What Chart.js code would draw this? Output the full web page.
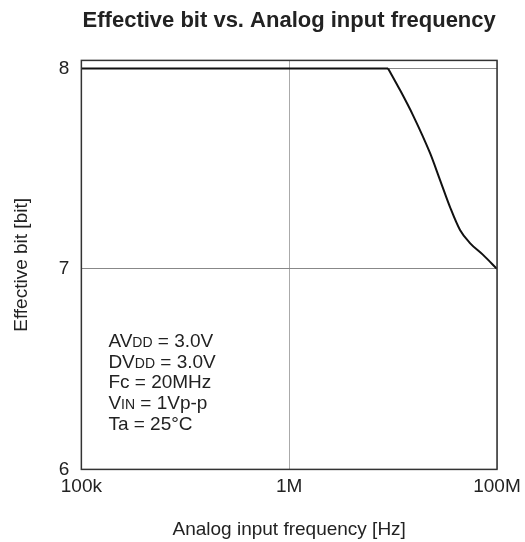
<!DOCTYPE html>
<html>
<head>
<meta charset="utf-8">
<script src="https://cdn.jsdelivr.net/npm/chart.js@4.4.1/dist/chart.umd.min.js"></script>
<style>
  body { margin: 0; background: #fff; }
  #wrap { width: 525px; height: 542px; }
</style>
</head>
<body>
<div id="wrap"><canvas id="chart"></canvas></div>
<script>
// x is the position on the printed axis: 0 = 100k, 1 = 1M, 2 = 100M
var xTickLabels = ['100k', '1M', '100M'];
var yTicks = [6, 7, 8];
var curveX = [0, 1.476, 1.534, 1.596, 1.678, 1.726, 1.774, 1.822, 1.870, 1.933, 2.0];
var curveY = [8, 8, 7.891, 7.766, 7.577, 7.443, 7.308, 7.194, 7.129, 7.070, 7.0];
var kneeIndex = 1; // curve leaves the 8-bit line here
var noteLines = [
  ['AV', 'DD', ' = 3.0V'],
  ['DV', 'DD', ' = 3.0V'],
  ['Fc = 20MHz', '', ''],
  ['V', 'IN', ' = 1Vp-p'],
  ['Ta = 25°C', '', '']
];

var FONT = "'Liberation Sans', Arial, sans-serif";

var points = curveX.map(function (x, i) { return { x: x, y: curveY[i] }; });

// frame + condition text
var extras = {
  id: 'extras',
  afterDraw: function (chart) {
    var c = chart.ctx, a = chart.chartArea;
    c.save();
    c.strokeStyle = '#333';
    c.lineWidth = 1.5;
    c.strokeRect(a.left, a.top, a.right - a.left, a.bottom - a.top);

    c.fillStyle = '#222';
    c.textBaseline = 'alphabetic';
    var x0 = chart.scales.x.getPixelForValue(0.13);
    var y0 = chart.scales.y.getPixelForValue(6.612);
    noteLines.forEach(function (ln, i) {
      var x = x0, y = y0 + i * 20.8;
      c.font = '19px ' + FONT;
      c.fillText(ln[0], x, y);
      x += c.measureText(ln[0]).width;
      if (ln[1]) {
        c.font = '14px ' + FONT;
        c.fillText(ln[1], x, y);
        x += c.measureText(ln[1]).width;
        c.font = '19px ' + FONT;
        c.fillText(ln[2], x, y);
      }
    });
    c.restore();
  }
};

var lineStyle = {
  showLine: true,
  borderColor: '#111',
  borderWidth: 2,
  pointRadius: 0,
  fill: false
};

new Chart(document.getElementById('chart'), {
  type: 'scatter',
  data: {
    datasets: [
      Object.assign({ data: points.slice(0, kneeIndex + 1) }, lineStyle),
      Object.assign({ data: points.slice(kneeIndex), cubicInterpolationMode: 'monotone' }, lineStyle)
    ]
  },
  options: {
    responsive: true,
    maintainAspectRatio: false,
    animation: false,
    layout: { padding: { left: 10, right: 0, top: 0, bottom: 1 } },
    plugins: {
      legend: { display: false },
      tooltip: { enabled: false },
      title: {
        display: true,
        fullSize: false,
        text: 'Effective bit vs. Analog input frequency',
        color: '#222',
        font: { family: FONT, size: 22, weight: 'bold' },
        padding: { top: 8, bottom: 26 }
      }
    },
    scales: {
      x: {
        type: 'linear',
        min: 0,
        max: 2,
        afterBuildTicks: function (s) { s.ticks = [0, 1, 2].map(function (v) { return { value: v }; }); },
        afterFit: function (s) { s.paddingRight = 28; },
        ticks: {
          color: '#222',
          font: { family: FONT, size: 19 },
          padding: 6,
          maxRotation: 0,
          callback: function (v) { return xTickLabels[v]; }
        },
        grid: { color: '#aaa', lineWidth: 1, drawTicks: false },
        border: { display: false },
        title: {
          display: true,
          text: 'Analog input frequency [Hz]',
          color: '#222',
          font: { family: FONT, size: 19 },
          padding: { top: 14, bottom: 0 }
        }
      },
      y: {
        type: 'linear',
        min: 6,
        max: 8.04,
        afterBuildTicks: function (s) { s.ticks = yTicks.map(function (v) { return { value: v }; }); },
        ticks: {
          color: '#222',
          font: { family: FONT, size: 19 },
          padding: 12
        },
        grid: { color: '#888', lineWidth: 1, drawTicks: false },
        border: { display: false },
        title: {
          display: true,
          text: 'Effective bit [bit]',
          color: '#222',
          font: { family: FONT, size: 19 },
          padding: { top: 0, bottom: 14 }
        }
      }
    }
  },
  plugins: [extras]
});
</script>
</body>
</html>
